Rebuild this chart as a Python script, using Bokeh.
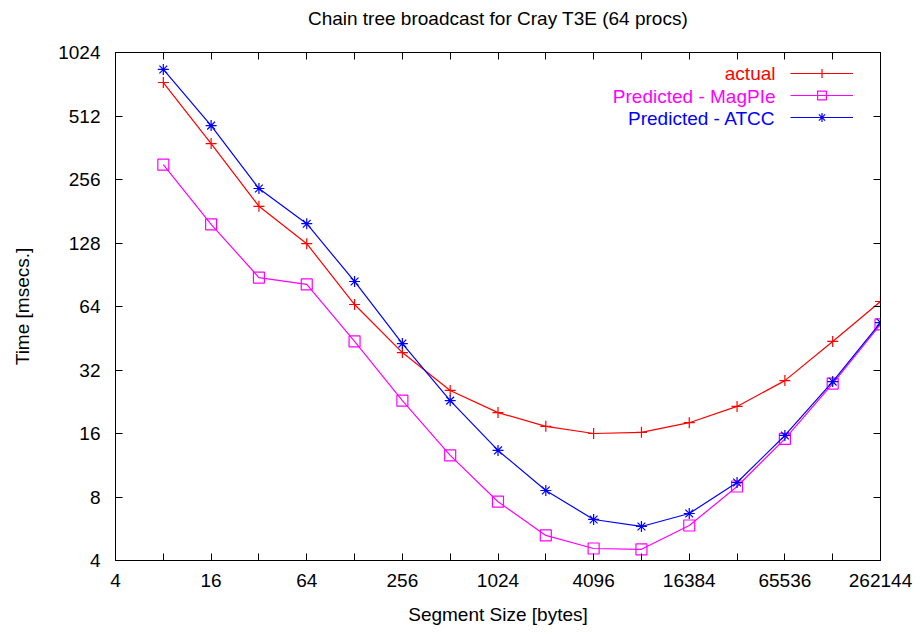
from bokeh.plotting import figure
from bokeh.models import FixedTicker, LogAxis, Legend, LegendItem, Label
from bokeh.embed import file_html
from bokeh.resources import INLINE

# --- data ---
segment_sizes = [8, 16, 32, 64, 128, 256, 512, 1024, 2048, 4096, 8192, 16384, 32768, 65536, 131072, 262144]
actual = [738, 379, 191, 127, 65.4, 38.7, 25.6, 20.1, 17.3, 16.0, 16.2, 18.0, 21.5, 28.5, 43.7, 67.6]
magpie = [301, 157, 87.8, 81.4, 43.7, 22.9, 12.6, 7.6, 5.26, 4.56, 4.52, 5.86, 8.97, 15.1, 27.6, 52.6]
atcc = [851, 461, 232, 158, 84.1, 42.7, 22.9, 13.3, 8.59, 6.26, 5.80, 6.68, 9.37, 15.66, 28.2, 53.7]

x_ticks = [2 ** k for k in range(2, 19)]
x_tick_labels = [str(2 ** k) if k % 2 == 0 else "" for k in range(2, 19)]
y_ticks = [2 ** k for k in range(2, 11)]

title_text = "Chain tree broadcast for Cray T3E (64 procs)"
series_names = ["actual", "Predicted - MagPIe", "Predicted - ATCC"]
series_colors = ["#ff0000", "#ff00ff", "#0000ff"]

FONT = "Liberation Sans"
FS = "19px"

p = figure(width=924, height=634, x_axis_type="log", y_axis_type="log",
           x_range=(4, 262144), y_range=(4, 1024),
           output_backend="svg", toolbar_location=None,
           min_border_left=115, min_border_right=44, min_border_top=52, min_border_bottom=74,
           title=title_text)
p.title.align = "center"
p.title.text_font = FONT
p.title.text_font_size = FS
p.title.text_font_style = "normal"
p.title.text_color = "black"
p.title.standoff = 0

p.grid.visible = False
p.outline_line_color = "black"
p.outline_line_width = 1
p.background_fill_color = "white"
p.border_fill_color = "white"

xlabels = {t: l for t, l in zip(x_ticks, x_tick_labels)}

def style_axis(ax):
    ax.major_tick_in = 7
    ax.major_tick_out = 0
    ax.minor_tick_in = 0
    ax.minor_tick_out = 0
    ax.axis_line_color = "black"
    ax.major_tick_line_color = "black"
    ax.major_label_text_font = FONT
    ax.major_label_text_font_size = FS
    ax.major_label_text_color = "black"
    ax.axis_label_text_font = FONT
    ax.axis_label_text_font_size = FS
    ax.axis_label_text_font_style = "normal"
    ax.axis_label_text_color = "black"

xa = p.xaxis[0]
xa.ticker = FixedTicker(ticks=x_ticks)
xa.major_label_overrides = xlabels
xa.axis_label = "Segment Size [bytes]"
style_axis(xa)
xa.major_label_standoff = 13
xa.axis_label_standoff = 14

ya = p.yaxis[0]
ya.ticker = FixedTicker(ticks=y_ticks)
ya.major_label_overrides = {t: str(t) for t in y_ticks}
ya.axis_label = "Time [msecs.]"
style_axis(ya)
ya.major_label_standoff = 15
ya.axis_label_standoff = 22

top = LogAxis(ticker=FixedTicker(ticks=x_ticks))
style_axis(top)
top.major_label_overrides = {t: " " for t in x_ticks}
top.major_label_standoff = 0
p.add_layout(top, "above")
right = LogAxis(ticker=FixedTicker(ticks=y_ticks))
style_axis(right)
right.major_label_overrides = {t: "" for t in y_ticks}
right.major_label_standoff = 0
p.add_layout(right, "right")

items = []
markers = ["cross", "square", "asterisk"]
for ys, c, m in zip([actual, magpie, atcc], series_colors, markers):
    ln = p.line(segment_sizes, ys, line_color=c, line_width=1.2)
    sc = p.scatter(segment_sizes, ys, marker=m, size=11, line_color=c, fill_color=None, line_width=1.2)
    items.append(LegendItem(label="", renderers=[ln, sc]))

legend = Legend(items=items, location=(675, 432), orientation="vertical",
                glyph_width=63, glyph_height=22, label_height=22, label_width=0,
                label_standoff=0, spacing=0, padding=0, margin=0,
                border_line_color=None, background_fill_alpha=0,
                label_text_font_size="1px")
p.add_layout(legend, "center")

for i, (name, c) in enumerate(zip(series_names, series_colors)):
    p.add_layout(Label(x=660, y=487 - 22.5 * i, x_units="screen", y_units="screen",
                       text=name, text_align="right", text_baseline="middle",
                       text_color=c, text_font=FONT, text_font_size=FS))

open("out.html", "w").write(file_html(p, INLINE))
